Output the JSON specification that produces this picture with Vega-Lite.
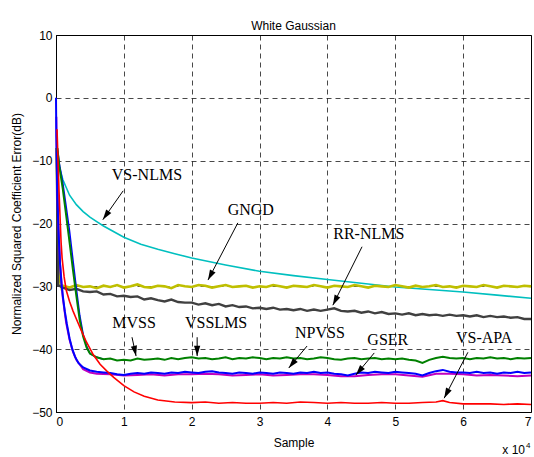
{
  "$schema": "https://vega.github.io/schema/vega-lite/v6.json",
  "width": 475,
  "height": 377,
  "autosize": "none",
  "padding": {"left": 56, "top": 35, "right": 3, "bottom": 45},
  "background": "white",
  "title": {"text": "White Gaussian", "fontSize": 12, "fontWeight": "normal", "font": "Liberation Sans", "color": "black", "offset": 5, "dy": 9},
  "config": {
    "view": {"stroke": "black", "strokeWidth": 1},
    "axis": {
      "domainColor": "black", "gridColor": "black", "gridDash": [5, 4], "gridWidth": 0.8, "gridOpacity": 0.9,
      "ticks": false, "labelFont": "Liberation Sans", "labelFontSize": 12, "labelColor": "black",
      "titleFont": "Liberation Sans", "titleFontSize": 12, "titleFontWeight": "normal", "titleColor": "black"
    }
  },
  "datasets": {
    "cyan": [
      {"x": 0.01, "y": -6}, {"x": 0.02, "y": -9}, {"x": 0.05, "y": -11}, {"x": 0.1, "y": -13}, {"x": 0.2, "y": -15.5},
      {"x": 0.3, "y": -17}, {"x": 0.4, "y": -18.1}, {"x": 0.5, "y": -19}, {"x": 0.6, "y": -19.7}, {"x": 0.7, "y": -20.4},
      {"x": 0.8, "y": -21}, {"x": 0.9, "y": -21.6}, {"x": 1.0, "y": -22.2}, {"x": 1.25, "y": -23.3}, {"x": 1.5, "y": -24.1},
      {"x": 1.75, "y": -24.8}, {"x": 2.0, "y": -25.5}, {"x": 2.5, "y": -26.6}, {"x": 3.0, "y": -27.6}, {"x": 3.5, "y": -28.3},
      {"x": 4.0, "y": -28.9}, {"x": 4.5, "y": -29.5}, {"x": 5.0, "y": -30.1}, {"x": 5.5, "y": -30.5}, {"x": 6.0, "y": -30.9},
      {"x": 6.5, "y": -31.4}, {"x": 7.0, "y": -31.9}
    ],
    "yellow": [
      {"x": 0.01, "y": -8}, {"x": 0.04, "y": -28}, {"x": 0.08, "y": -30.2},
      {"x": 0.1, "y": -29.9}, {"x": 0.2, "y": -30.2}, {"x": 0.3, "y": -29.8}, {"x": 0.4, "y": -30.1}, {"x": 0.5, "y": -30.0},
      {"x": 0.6, "y": -30.3}, {"x": 0.7, "y": -29.9}, {"x": 0.8, "y": -30.1}, {"x": 0.9, "y": -29.8}, {"x": 1.0, "y": -30.2},
      {"x": 1.1, "y": -30.0}, {"x": 1.2, "y": -29.7}, {"x": 1.3, "y": -30.1}, {"x": 1.4, "y": -30.2}, {"x": 1.5, "y": -29.9},
      {"x": 1.6, "y": -30.0}, {"x": 1.7, "y": -30.3}, {"x": 1.8, "y": -29.8}, {"x": 1.9, "y": -30.0}, {"x": 2.0, "y": -30.1},
      {"x": 2.1, "y": -29.8}, {"x": 2.2, "y": -29.9}, {"x": 2.3, "y": -30.2}, {"x": 2.4, "y": -30.0}, {"x": 2.5, "y": -29.8},
      {"x": 2.6, "y": -30.1}, {"x": 2.7, "y": -30.0}, {"x": 2.8, "y": -29.9}, {"x": 2.9, "y": -30.2}, {"x": 3.0, "y": -30.0},
      {"x": 3.1, "y": -30.1}, {"x": 3.2, "y": -29.8}, {"x": 3.3, "y": -30.0}, {"x": 3.4, "y": -30.2}, {"x": 3.5, "y": -29.9},
      {"x": 3.6, "y": -30.0}, {"x": 3.7, "y": -30.1}, {"x": 3.8, "y": -29.8}, {"x": 3.9, "y": -30.0}, {"x": 4.0, "y": -30.2},
      {"x": 4.1, "y": -29.9}, {"x": 4.2, "y": -30.0}, {"x": 4.3, "y": -30.1}, {"x": 4.4, "y": -29.8}, {"x": 4.5, "y": -30.0},
      {"x": 4.6, "y": -30.2}, {"x": 4.7, "y": -29.9}, {"x": 4.8, "y": -30.0}, {"x": 4.9, "y": -30.1}, {"x": 5.0, "y": -29.8},
      {"x": 5.1, "y": -30.0}, {"x": 5.2, "y": -30.2}, {"x": 5.3, "y": -29.9}, {"x": 5.4, "y": -30.1}, {"x": 5.5, "y": -30.0},
      {"x": 5.6, "y": -29.8}, {"x": 5.7, "y": -30.1}, {"x": 5.8, "y": -30.0}, {"x": 5.9, "y": -30.2}, {"x": 6.0, "y": -29.9},
      {"x": 6.1, "y": -30.0}, {"x": 6.2, "y": -30.1}, {"x": 6.3, "y": -29.8}, {"x": 6.4, "y": -30.0}, {"x": 6.5, "y": -30.2},
      {"x": 6.6, "y": -29.9}, {"x": 6.7, "y": -30.0}, {"x": 6.8, "y": -30.1}, {"x": 6.9, "y": -29.9}, {"x": 7.0, "y": -30.0}
    ],
    "gray": [
      {"x": 0.01, "y": -8}, {"x": 0.03, "y": -29.8}, {"x": 0.1, "y": -30.2}, {"x": 0.2, "y": -30.6}, {"x": 0.3, "y": -30.4},
      {"x": 0.4, "y": -30.8}, {"x": 0.5, "y": -30.9}, {"x": 0.6, "y": -30.8}, {"x": 0.7, "y": -31.3}, {"x": 0.8, "y": -31.2},
      {"x": 0.9, "y": -31.6}, {"x": 1.0, "y": -31.5}, {"x": 1.1, "y": -31.7}, {"x": 1.2, "y": -31.6}, {"x": 1.3, "y": -32.1},
      {"x": 1.4, "y": -31.9}, {"x": 1.5, "y": -32.2}, {"x": 1.6, "y": -32.4}, {"x": 1.7, "y": -32.1}, {"x": 1.8, "y": -32.5},
      {"x": 1.9, "y": -32.6}, {"x": 2.0, "y": -32.6}, {"x": 2.1, "y": -32.9}, {"x": 2.2, "y": -32.7}, {"x": 2.3, "y": -33.0},
      {"x": 2.4, "y": -32.8}, {"x": 2.5, "y": -33.2}, {"x": 2.6, "y": -33.0}, {"x": 2.7, "y": -33.3}, {"x": 2.8, "y": -33.2},
      {"x": 2.9, "y": -33.5}, {"x": 3.0, "y": -33.4}, {"x": 3.1, "y": -33.6}, {"x": 3.2, "y": -33.4}, {"x": 3.3, "y": -33.7},
      {"x": 3.4, "y": -33.6}, {"x": 3.5, "y": -33.8}, {"x": 3.6, "y": -33.6}, {"x": 3.7, "y": -33.9}, {"x": 3.8, "y": -33.7},
      {"x": 3.9, "y": -33.9}, {"x": 4.0, "y": -33.7}, {"x": 4.1, "y": -33.5}, {"x": 4.2, "y": -33.9}, {"x": 4.3, "y": -34.0},
      {"x": 4.4, "y": -33.9}, {"x": 4.5, "y": -34.2}, {"x": 4.6, "y": -34.0}, {"x": 4.7, "y": -34.3}, {"x": 4.8, "y": -34.1},
      {"x": 4.9, "y": -34.4}, {"x": 5.0, "y": -34.3}, {"x": 5.1, "y": -34.5}, {"x": 5.2, "y": -34.3}, {"x": 5.3, "y": -34.6},
      {"x": 5.4, "y": -34.4}, {"x": 5.5, "y": -34.6}, {"x": 5.6, "y": -34.5}, {"x": 5.7, "y": -34.7}, {"x": 5.8, "y": -34.5},
      {"x": 5.9, "y": -34.7}, {"x": 6.0, "y": -34.6}, {"x": 6.1, "y": -34.8}, {"x": 6.2, "y": -34.6}, {"x": 6.3, "y": -34.9},
      {"x": 6.4, "y": -34.7}, {"x": 6.5, "y": -34.9}, {"x": 6.6, "y": -34.8}, {"x": 6.7, "y": -35.0}, {"x": 6.8, "y": -34.9},
      {"x": 6.9, "y": -35.2}, {"x": 7.0, "y": -35.2}
    ],
    "vsslms": [
      {"x": 0.02, "y": -8}, {"x": 0.05, "y": -10.5}, {"x": 0.1, "y": -13.5}, {"x": 0.15, "y": -17.3}, {"x": 0.2, "y": -21.2},
      {"x": 0.25, "y": -25.8}, {"x": 0.3, "y": -30.3}, {"x": 0.35, "y": -34.6}, {"x": 0.4, "y": -37.6}, {"x": 0.45, "y": -39.5},
      {"x": 0.5, "y": -40.7}, {"x": 0.6, "y": -41.3}, {"x": 0.7, "y": -41.6}
    ],
    "green": [
      {"x": 0.02, "y": -8}, {"x": 0.05, "y": -11}, {"x": 0.1, "y": -14.5}, {"x": 0.15, "y": -18.7}, {"x": 0.2, "y": -23},
      {"x": 0.25, "y": -27.4}, {"x": 0.3, "y": -31.5}, {"x": 0.35, "y": -35.4}, {"x": 0.4, "y": -38}, {"x": 0.45, "y": -39.7},
      {"x": 0.5, "y": -40.7}, {"x": 0.6, "y": -41.3},
      {"x": 0.7, "y": -41.6}, {"x": 0.8, "y": -41.5}, {"x": 0.9, "y": -41.8}, {"x": 1.0, "y": -41.7}, {"x": 1.1, "y": -41.8},
      {"x": 1.2, "y": -41.5}, {"x": 1.3, "y": -41.7}, {"x": 1.4, "y": -41.6}, {"x": 1.5, "y": -41.5}, {"x": 1.6, "y": -41.7},
      {"x": 1.7, "y": -41.4}, {"x": 1.8, "y": -41.6}, {"x": 1.9, "y": -41.4}, {"x": 2.0, "y": -41.3}, {"x": 2.1, "y": -41.5},
      {"x": 2.2, "y": -41.4}, {"x": 2.3, "y": -41.6}, {"x": 2.4, "y": -41.5}, {"x": 2.5, "y": -41.3}, {"x": 2.6, "y": -41.6},
      {"x": 2.7, "y": -41.4}, {"x": 2.8, "y": -41.5}, {"x": 2.9, "y": -41.3}, {"x": 3.0, "y": -41.4}, {"x": 3.1, "y": -41.6},
      {"x": 3.2, "y": -41.4}, {"x": 3.3, "y": -41.5}, {"x": 3.4, "y": -41.3}, {"x": 3.5, "y": -41.5}, {"x": 3.6, "y": -41.4},
      {"x": 3.7, "y": -41.6}, {"x": 3.8, "y": -41.5}, {"x": 3.9, "y": -41.3}, {"x": 4.0, "y": -41.4}, {"x": 4.1, "y": -41.6},
      {"x": 4.2, "y": -41.7}, {"x": 4.3, "y": -41.5}, {"x": 4.4, "y": -41.4}, {"x": 4.5, "y": -41.6}, {"x": 4.6, "y": -41.5},
      {"x": 4.7, "y": -41.4}, {"x": 4.8, "y": -41.6}, {"x": 4.9, "y": -41.5}, {"x": 5.0, "y": -41.6}, {"x": 5.1, "y": -41.5},
      {"x": 5.2, "y": -41.7}, {"x": 5.3, "y": -41.8}, {"x": 5.4, "y": -42.2}, {"x": 5.5, "y": -41.7}, {"x": 5.6, "y": -41.4},
      {"x": 5.7, "y": -41.2}, {"x": 5.8, "y": -41.4}, {"x": 5.9, "y": -41.5}, {"x": 6.0, "y": -41.4}, {"x": 6.1, "y": -41.6},
      {"x": 6.2, "y": -41.4}, {"x": 6.3, "y": -41.5}, {"x": 6.4, "y": -41.3}, {"x": 6.5, "y": -41.5}, {"x": 6.6, "y": -41.4},
      {"x": 6.7, "y": -41.6}, {"x": 6.8, "y": -41.4}, {"x": 6.9, "y": -41.5}, {"x": 7.0, "y": -41.4}
    ],
    "magenta": [
      {"x": 0.005, "y": -3}, {"x": 0.012, "y": -10}, {"x": 0.03, "y": -19}, {"x": 0.06, "y": -26.5}, {"x": 0.1, "y": -31.8},
      {"x": 0.15, "y": -35.8}, {"x": 0.2, "y": -38.5}, {"x": 0.25, "y": -40.4}, {"x": 0.3, "y": -41.7}, {"x": 0.4, "y": -43.2},
      {"x": 0.5, "y": -43.7}, {"x": 0.6, "y": -43.9}, {"x": 0.8, "y": -44.0}, {"x": 1.0, "y": -44.2}, {"x": 1.2, "y": -44.1},
      {"x": 1.4, "y": -44.0}, {"x": 1.6, "y": -44.2}, {"x": 1.8, "y": -44.0}, {"x": 2.0, "y": -44.0}, {"x": 2.2, "y": -43.9},
      {"x": 2.4, "y": -44.0}, {"x": 2.6, "y": -44.2}, {"x": 2.8, "y": -44.1}, {"x": 3.0, "y": -44.0}, {"x": 3.2, "y": -44.2},
      {"x": 3.4, "y": -44.1}, {"x": 3.6, "y": -44.0}, {"x": 3.8, "y": -44.0}, {"x": 4.0, "y": -44.1}, {"x": 4.2, "y": -44.3},
      {"x": 4.4, "y": -44.3}, {"x": 4.6, "y": -44.1}, {"x": 4.8, "y": -44.0}, {"x": 5.0, "y": -44.0}, {"x": 5.2, "y": -44.2},
      {"x": 5.4, "y": -44.4}, {"x": 5.6, "y": -43.9}, {"x": 5.8, "y": -43.9}, {"x": 6.0, "y": -44.0}, {"x": 6.2, "y": -44.2},
      {"x": 6.4, "y": -44.1}, {"x": 6.6, "y": -44.2}, {"x": 6.8, "y": -44.3}, {"x": 7.0, "y": -44.2}
    ],
    "blue": [
      {"x": 0, "y": 0}, {"x": 0.005, "y": -6}, {"x": 0.02, "y": -16}, {"x": 0.04, "y": -22}, {"x": 0.06, "y": -26.5},
      {"x": 0.08, "y": -29.5}, {"x": 0.1, "y": -31.5}, {"x": 0.13, "y": -34}, {"x": 0.16, "y": -36}, {"x": 0.2, "y": -38.3},
      {"x": 0.24, "y": -40}, {"x": 0.28, "y": -41.2}, {"x": 0.33, "y": -42.2}, {"x": 0.4, "y": -42.9}, {"x": 0.5, "y": -43.4},
      {"x": 0.6, "y": -43.6}, {"x": 0.7, "y": -43.7},
      {"x": 0.8, "y": -43.8}, {"x": 0.9, "y": -44.0}, {"x": 1.0, "y": -44.1}, {"x": 1.1, "y": -43.9}, {"x": 1.2, "y": -43.8},
      {"x": 1.3, "y": -43.9}, {"x": 1.4, "y": -43.7}, {"x": 1.5, "y": -43.8}, {"x": 1.6, "y": -43.9}, {"x": 1.7, "y": -43.7},
      {"x": 1.8, "y": -43.8}, {"x": 1.9, "y": -43.6}, {"x": 2.0, "y": -43.7}, {"x": 2.1, "y": -43.8}, {"x": 2.2, "y": -43.6},
      {"x": 2.3, "y": -43.5}, {"x": 2.4, "y": -43.7}, {"x": 2.5, "y": -43.8}, {"x": 2.6, "y": -43.9}, {"x": 2.7, "y": -43.7},
      {"x": 2.8, "y": -43.8}, {"x": 2.9, "y": -43.9}, {"x": 3.0, "y": -43.7}, {"x": 3.1, "y": -43.8}, {"x": 3.2, "y": -43.9},
      {"x": 3.3, "y": -43.7}, {"x": 3.4, "y": -43.8}, {"x": 3.5, "y": -43.9}, {"x": 3.6, "y": -43.7}, {"x": 3.7, "y": -43.8},
      {"x": 3.8, "y": -43.6}, {"x": 3.9, "y": -43.8}, {"x": 4.0, "y": -43.7}, {"x": 4.1, "y": -43.9}, {"x": 4.2, "y": -44.0},
      {"x": 4.3, "y": -44.2}, {"x": 4.4, "y": -43.9}, {"x": 4.5, "y": -43.7}, {"x": 4.6, "y": -43.8}, {"x": 4.7, "y": -43.6},
      {"x": 4.8, "y": -43.7}, {"x": 4.9, "y": -43.8}, {"x": 5.0, "y": -43.6}, {"x": 5.1, "y": -43.7}, {"x": 5.2, "y": -43.8},
      {"x": 5.3, "y": -43.9}, {"x": 5.4, "y": -44.2}, {"x": 5.5, "y": -43.8}, {"x": 5.6, "y": -43.5}, {"x": 5.7, "y": -43.3},
      {"x": 5.8, "y": -43.6}, {"x": 5.9, "y": -43.7}, {"x": 6.0, "y": -43.7}, {"x": 6.1, "y": -43.8}, {"x": 6.2, "y": -43.6},
      {"x": 6.3, "y": -43.8}, {"x": 6.4, "y": -43.7}, {"x": 6.5, "y": -43.9}, {"x": 6.6, "y": -43.7}, {"x": 6.7, "y": -43.8},
      {"x": 6.8, "y": -43.6}, {"x": 6.9, "y": -43.8}, {"x": 7.0, "y": -43.7}
    ],
    "red": [
      {"x": 0.015, "y": -5}, {"x": 0.03, "y": -10}, {"x": 0.045, "y": -15}, {"x": 0.06, "y": -19}, {"x": 0.075, "y": -23},
      {"x": 0.09, "y": -25.5}, {"x": 0.12, "y": -28.5}, {"x": 0.15, "y": -30.6}, {"x": 0.2, "y": -32.4}, {"x": 0.25, "y": -33.9}, {"x": 0.3, "y": -35.2},
      {"x": 0.38, "y": -37.2}, {"x": 0.45, "y": -38.9}, {"x": 0.55, "y": -40.9}, {"x": 0.65, "y": -42.4}, {"x": 0.75, "y": -43.5},
      {"x": 0.85, "y": -44.5}, {"x": 1.0, "y": -45.8}, {"x": 1.15, "y": -46.8}, {"x": 1.3, "y": -47.5}, {"x": 1.5, "y": -48.1},
      {"x": 1.75, "y": -48.4}, {"x": 2.0, "y": -48.5}, {"x": 2.2, "y": -48.4}, {"x": 2.4, "y": -48.6}, {"x": 2.6, "y": -48.5},
      {"x": 2.8, "y": -48.6}, {"x": 3.0, "y": -48.6}, {"x": 3.2, "y": -48.5}, {"x": 3.4, "y": -48.6}, {"x": 3.6, "y": -48.4},
      {"x": 3.8, "y": -48.5}, {"x": 4.0, "y": -48.6}, {"x": 4.2, "y": -48.5}, {"x": 4.4, "y": -48.6}, {"x": 4.6, "y": -48.6},
      {"x": 4.8, "y": -48.5}, {"x": 5.0, "y": -48.6}, {"x": 5.2, "y": -48.6}, {"x": 5.4, "y": -48.5}, {"x": 5.6, "y": -48.4},
      {"x": 5.7, "y": -48.2}, {"x": 5.8, "y": -48.5}, {"x": 6.0, "y": -48.7}, {"x": 6.2, "y": -48.7}, {"x": 6.4, "y": -48.7},
      {"x": 6.6, "y": -48.8}, {"x": 6.8, "y": -48.7}, {"x": 7.0, "y": -48.8}
    ],
    "notes": [
      {"label": "VS-NLMS", "tx": 1.34, "ty": -12.3, "x1": 0.99, "y1": -14.8, "x2": 0.69, "y2": -19.4},
      {"label": "GNGD", "tx": 2.87, "ty": -17.9, "x1": 2.68, "y1": -19.9, "x2": 2.24, "y2": -29.0},
      {"label": "RR-NLMS", "tx": 4.61, "ty": -21.7, "x1": 4.51, "y1": -23.7, "x2": 4.08, "y2": -33.0},
      {"label": "MVSS", "tx": 1.15, "ty": -35.8, "x1": 1.12, "y1": -38.1, "x2": 1.18, "y2": -41.1},
      {"label": "VSSLMS", "tx": 2.36, "ty": -35.8, "x1": 2.08, "y1": -38.1, "x2": 2.08, "y2": -41.1},
      {"label": "NPVSS", "tx": 3.89, "ty": -37.4, "x1": 3.70, "y1": -39.5, "x2": 3.43, "y2": -43.0},
      {"label": "GSER", "tx": 4.89, "ty": -38.5, "x1": 4.69, "y1": -40.6, "x2": 4.42, "y2": -44.1},
      {"label": "VS-APA", "tx": 6.31, "ty": -38.2, "x1": 6.07, "y1": -40.5, "x2": 5.72, "y2": -47.8}
    ],
    "scalenote": [
      {"t": "x 10", "x": 7, "y": -50},
      {"t": "4", "x": 7, "y": -50}
    ]
  },
  "encoding": {
    "x": {"field": "x", "type": "quantitative", "scale": {"domain": [0, 7], "nice": false},
          "axis": {"values": [0, 1, 2, 3, 4, 5, 6, 7], "title": "Sample", "labelPadding": 4, "titlePadding": 10}},
    "y": {"field": "y", "type": "quantitative", "scale": {"domain": [-50, 10], "nice": false},
          "axis": {"values": [-50, -40, -30, -20, -10, 0, 10], "title": "Normalized Squared Coefficient Error(dB)", "labelPadding": 4, "titlePadding": 8}}
  },
  "layer": [
    {"data": {"name": "cyan"}, "mark": {"type": "line", "color": "#00BFBF", "strokeWidth": 1.6}},
    {"data": {"name": "yellow"}, "mark": {"type": "line", "color": "#BFBF00", "strokeWidth": 2.6}},
    {"data": {"name": "gray"}, "mark": {"type": "line", "color": "#404040", "strokeWidth": 2.4}},
    {"data": {"name": "vsslms"}, "mark": {"type": "line", "color": "#0000FF", "strokeWidth": 1.5}},
    {"data": {"name": "magenta"}, "mark": {"type": "line", "color": "#BF00BF", "strokeWidth": 2}},
    {"data": {"name": "blue"}, "mark": {"type": "line", "color": "#0000FF", "strokeWidth": 2}},
    {"data": {"name": "green"}, "mark": {"type": "line", "color": "#008000", "strokeWidth": 2}},
    {"data": {"name": "red"}, "mark": {"type": "line", "color": "#FF0000", "strokeWidth": 1.6}},
    {"data": {"name": "notes"}, "mark": {"type": "rule", "color": "black", "strokeWidth": 1},
     "encoding": {"x": {"field": "x1", "type": "quantitative"}, "y": {"field": "y1", "type": "quantitative"},
                  "x2": {"field": "x2"}, "y2": {"field": "y2"}}},
    {"data": {"name": "notes"},
     "transform": [{"calculate": "atan2((datum.x2 - datum.x1) * 67.86, (datum.y2 - datum.y1) * 6.283) * 180 / PI", "as": "ang"}],
     "mark": {"type": "point", "shape": "M0,0L-0.7,2.3L0.7,2.3Z", "filled": true, "color": "black", "opacity": 1, "size": 80},
     "encoding": {"x": {"field": "x2", "type": "quantitative"}, "y": {"field": "y2", "type": "quantitative"},
                  "angle": {"field": "ang", "type": "quantitative", "scale": null}}},
    {"data": {"name": "notes"}, "mark": {"type": "text", "font": "Liberation Serif", "fontSize": 16, "color": "black", "align": "center", "baseline": "middle"},
     "encoding": {"x": {"field": "tx", "type": "quantitative"}, "y": {"field": "ty", "type": "quantitative"}, "text": {"field": "label"}}},
    {"data": {"name": "scalenote"}, "transform": [{"filter": "datum.t == 'x 10'"}],
     "mark": {"type": "text", "font": "Liberation Sans", "fontSize": 12, "color": "black", "align": "right", "baseline": "alphabetic", "dx": -6, "dy": 42},
     "encoding": {"text": {"field": "t"}}},
    {"data": {"name": "scalenote"}, "transform": [{"filter": "datum.t == '4'"}],
     "mark": {"type": "text", "font": "Liberation Sans", "fontSize": 8, "color": "black", "align": "left", "baseline": "alphabetic", "dx": -5, "dy": 36},
     "encoding": {"text": {"field": "t"}}}
  ]
}
